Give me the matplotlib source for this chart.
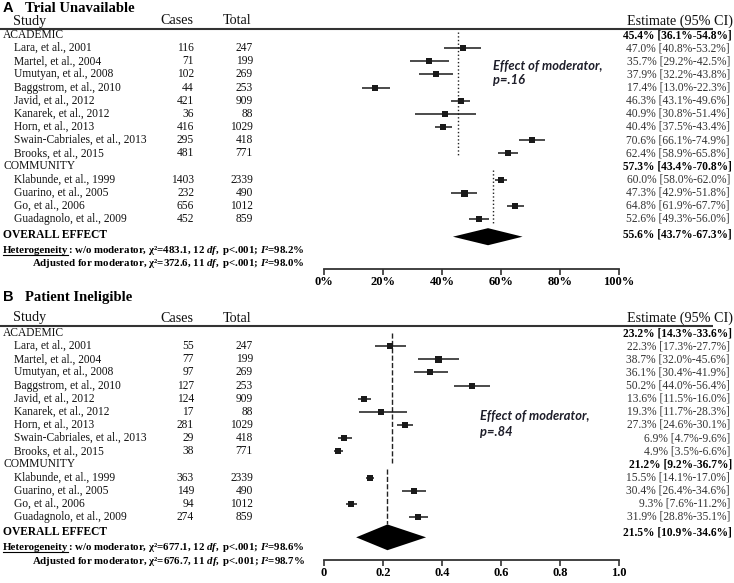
import matplotlib
matplotlib.use('Agg')
import matplotlib.pyplot as plt
from matplotlib.transforms import blended_transform_factory
from matplotlib.patches import Polygon

plt.rcParams['font.family'] = ['Liberation Serif', 'DejaVu Serif']
plt.rcParams['mathtext.fontset'] = 'custom'
plt.rcParams['mathtext.rm'] = 'Liberation Serif:bold'
plt.rcParams['mathtext.it'] = 'Liberation Serif:italic:bold'
plt.rcParams['mathtext.bf'] = 'Liberation Serif:bold'

# ---------------- data ----------------
studies = ["Lara, et al., 2001", "Martel, et al., 2004", "Umutyan, et al., 2008",
           "Baggstrom, et al., 2010", "Javid, et al., 2012", "Kanarek, et al., 2012",
           "Horn, et al., 2013", "Swain-Cabriales, et al., 2013", "Brooks, et al., 2015",
           "Klabunde, et al., 1999", "Guarino, et al., 2005", "Go, et al., 2006",
           "Guadagnolo, et al., 2009"]
group_of_study = ["ACADEMIC"] * 9 + ["COMMUNITY"] * 4
groups = ["ACADEMIC", "COMMUNITY"]
totals = [247, 199, 269, 253, 909, 88, 1029, 418, 771, 2339, 490, 1012, 859]

# Panel A: Trial Unavailable
a_cases = [116, 71, 102, 44, 421, 36, 416, 295, 481, 1403, 232, 656, 452]
a_est = [47.0, 35.7, 37.9, 17.4, 46.3, 40.9, 40.4, 70.6, 62.4, 60.0, 47.3, 64.8, 52.6]
a_lo = [40.8, 29.2, 32.2, 13.0, 43.1, 30.8, 37.5, 66.1, 58.9, 58.0, 42.9, 61.9, 49.3]
a_hi = [53.2, 42.5, 43.8, 22.3, 49.6, 51.4, 43.4, 74.9, 65.8, 62.0, 51.8, 67.7, 56.0]
a_sub_est = [45.4, 57.3]
a_sub_lo = [36.1, 43.4]
a_sub_hi = [54.8, 70.8]
a_overall = [55.6, 43.7, 67.3]
a_het = ["483.1", "12", "98.2"]
a_adj = ["372.6", "11", "98.0"]
a_p = ".16"
a_ticks = [0, 20, 40, 60, 80, 100]
a_ticklabels = ["0%", "20%", "40%", "60%", "80%", "100%"]

# Panel B: Patient Ineligible
b_cases = [55, 77, 97, 127, 124, 17, 281, 29, 38, 363, 149, 94, 274]
b_est = [22.3, 38.7, 36.1, 50.2, 13.6, 19.3, 27.3, 6.9, 4.9, 15.5, 30.4, 9.3, 31.9]
b_lo = [17.3, 32.0, 30.4, 44.0, 11.5, 11.7, 24.6, 4.7, 3.5, 14.1, 26.4, 7.6, 28.8]
b_hi = [27.7, 45.6, 41.9, 56.4, 16.0, 28.3, 30.1, 9.6, 6.6, 17.0, 34.6, 11.2, 35.1]
b_sub_est = [23.2, 21.2]
b_sub_lo = [14.3, 9.2]
b_sub_hi = [33.6, 36.7]
b_overall = [21.5, 10.9, 34.6]
b_het = ["677.1", "12", "98.6"]
b_adj = ["676.7", "11", "98.7"]
b_p = ".84"
b_ticks = [0, 20, 40, 60, 80, 100]
b_ticklabels = ["0", "0.2", "0.4", "0.6", "0.8", "1.0"]

# marker sizes (style, in px)
a_msize = [6.5, 5.8, 5.5, 5.5, 5.5, 5.5, 5.5, 5.5, 5.8, 5.5, 7, 5.8, 5.8]
b_msize = [6, 7, 6.5, 5.8, 5.3, 5.8, 5.3, 5.3, 5.3, 5.3, 5.8, 5.8, 5.8]

W, H = 734, 583
fig = plt.figure(figsize=(W / 100, H / 100), dpi=100)
canvas = fig.add_axes([0, 0, 1, 1])
canvas.set_xlim(0, W)
canvas.set_ylim(H, 0)
canvas.axis('off')

FS = 8.3
HFS = 10.2
TXT = '#111111'


def fmt(e, l, h):
    return f"{e:.1f}% [{l:.1f}%-{h:.1f}%]"


def panel(letter, title, cases, est, lo, hi, sub_est, sub_lo, sub_hi, overall,
          het, adj, pval, ticks, ticklabels, msize, line_style,
          title_y, head_y, line_y, row0, axis_y, step, overall_row, dia_row,
          dia_half, group_lines, mod_xy):
    ax = fig.add_axes([324 / W, (H - axis_y) / H, 295 / W, (axis_y - line_y) / H])
    ax.set_xlim(0, 100)
    ax.set_ylim((axis_y - row0) / step, (line_y - row0) / step)
    ax.patch.set_visible(False)
    for s in ['top', 'left', 'right']:
        ax.spines[s].set_visible(False)
    ax.spines['bottom'].set_color('#333333')
    ax.spines['bottom'].set_linewidth(1.3)
    ax.set_yticks([])
    ax.set_xticks(ticks)
    ax.set_xticklabels(ticklabels, fontweight='bold', fontsize=9.0)
    ax.tick_params(axis='x', direction='out', length=4, width=1.2, color='#333333', pad=1.0)

    tr = blended_transform_factory(canvas.transData, ax.transData)

    # titles and header
    canvas.text(3, title_y, letter, family='Liberation Sans', fontweight='bold',
                fontsize=10.5, va='center', ha='left')
    canvas.text(25, title_y, title, fontweight='bold', fontsize=10.5, va='center', ha='left')
    canvas.text(13, head_y, "Study", fontsize=HFS, va='center', ha='left', color=TXT)
    canvas.text(193, head_y, "Cases", fontsize=HFS, va='center', ha='right', color=TXT)
    canvas.text(251, head_y, "Total", fontsize=HFS, va='center', ha='right', color=TXT)
    canvas.text(733, head_y, "Estimate (95% CI)", fontsize=HFS, va='center', ha='right', color=TXT)
    canvas.plot([0, 713], [line_y, line_y], color='#333333', lw=1.5, solid_capstyle='butt')

    row = 0
    for gi, g in enumerate(groups):
        canvas.text(3, row, g, transform=tr, fontsize=FS, va='center', ha='left', color=TXT)
        canvas.text(732, row, fmt(sub_est[gi], sub_lo[gi], sub_hi[gi]), transform=tr,
                    fontsize=FS, fontweight='bold', va='center', ha='right')
        y0, y1 = group_lines[gi]
        ax.plot([sub_est[gi], sub_est[gi]], [y0, y1], color='#222222', lw=1.0, ls=line_style)
        row += 1
        for i, s in enumerate(studies):
            if group_of_study[i] != g:
                continue
            canvas.text(14, row, s, transform=tr, fontsize=FS, va='center', ha='left', color=TXT)
            canvas.text(194, row, str(cases[i]), transform=tr, fontsize=FS, va='center', ha='right', color=TXT)
            canvas.text(253, row, str(totals[i]), transform=tr, fontsize=FS, va='center', ha='right', color=TXT)
            canvas.text(730, row, fmt(est[i], lo[i], hi[i]), transform=tr, fontsize=FS,
                        va='center', ha='right', color='#333333')
            ax.errorbar([est[i]], [row], xerr=[[est[i] - lo[i]], [hi[i] - est[i]]],
                        fmt='s', color='#1a1a1a', ms=msize[i] * 0.72, mew=0,
                        ecolor='#1a1a1a', elinewidth=1.1, capsize=2.0, capthick=1.0)
            row += 1

    # overall
    canvas.text(3, overall_row, "OVERALL EFFECT", transform=tr, fontsize=FS, fontweight='bold',
                va='center', ha='left')
    canvas.text(732, overall_row, fmt(*overall), transform=tr, fontsize=FS, fontweight='bold',
                va='center', ha='right')
    e, l, h = overall
    ax.add_patch(Polygon([[l, dia_row], [e, dia_row - dia_half], [h, dia_row], [e, dia_row + dia_half]],
                         closed=True, color='black', lw=0))

    # heterogeneity
    hy = overall_row + 1.4
    t1 = canvas.text(3, hy, "Heterogeneity", transform=tr, fontsize=7.8, fontweight='bold',
                     va='baseline', ha='left')
    r = fig.canvas.get_renderer()
    bb = t1.get_window_extent(renderer=r)
    inv = canvas.transData.inverted()
    (x0, yb0), (x1, yb1) = inv.transform([[bb.x0, bb.y0], [bb.x1, bb.y1]])
    ybase = tr.transform([[0, hy]])[0]
    ybase = inv.transform([ybase])[0][1]
    canvas.plot([x0, x1], [ybase + 1.8, ybase + 1.8], color='black', lw=0.8)
    canvas.text(x1, hy, r": w/o moderator, χ²=" + het[0] + ", " + het[1] + r" $df,$ p<.001; $I$²=" + het[2] + "%",
                transform=tr, fontsize=7.8, fontweight='bold', va='baseline', ha='left')
    canvas.text(32, hy + 1.0, r"Adjusted for moderator, χ²=" + adj[0] + ", " + adj[1] + r" $df,$ p<.001; $I$²=" + adj[2] + "%",
                transform=tr, fontsize=7.8, fontweight='bold', va='baseline', ha='left')

    # moderator note
    canvas.text(mod_xy[0], mod_xy[1], "Effect of moderator,\np=" + pval, family='Lato',
                fontweight='bold', style='italic', fontsize=9.3, va='top', ha='left',
                color='#1e1e2a', linespacing=mod_xy[2])


panel("A", "Trial Unavailable", a_cases, a_est, a_lo, a_hi, a_sub_est, a_sub_lo, a_sub_hi,
      a_overall, a_het, a_adj, a_p, a_ticks, a_ticklabels, a_msize, ':',
      title_y=8, head_y=21, line_y=29, row0=35, axis_y=269, step=13.14,
      overall_row=15.2, dia_row=15.35, dia_half=0.65,
      group_lines=[(-0.23, 9.15), (10.27, 14.46)], mod_xy=(493, 60, 1.25))

panel("B", "Patient Ineligible", b_cases, b_est, b_lo, b_hi, b_sub_est, b_sub_lo, b_sub_hi,
      b_overall, b_het, b_adj, b_p, b_ticks, b_ticklabels, b_msize, '--',
      title_y=297, head_y=318, line_y=326, row0=333, axis_y=560, step=13.14,
      overall_row=15.15, dia_row=15.55, dia_half=0.98,
      group_lines=[(0.0, 9.9), (10.35, 14.5)], mod_xy=(480, 410, 1.4))

fig.savefig('out.png', dpi=100)
